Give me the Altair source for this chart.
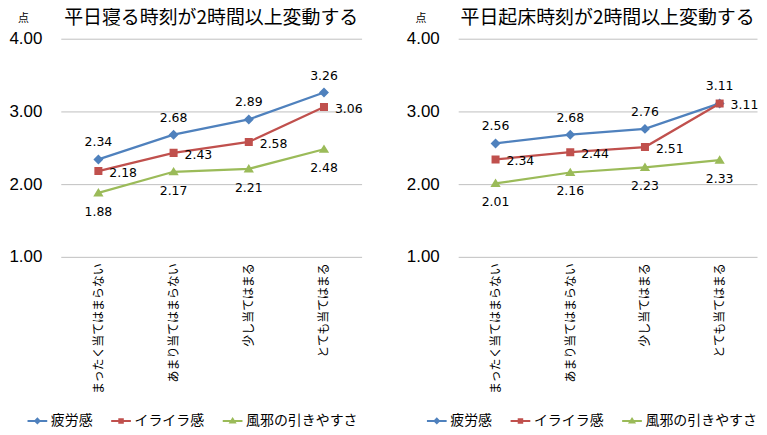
import altair as alt
import pandas as pd

categories = ["まったく当てはまらない", "あまり当てはまらない", "少し当てはまる", "とても当てはまる"]
series_names = ["疲労感", "イライラ感", "風邪の引きやすさ"]

left_title = "平日寝る時刻が2時間以上変動する"
left_fatigue = [2.34, 2.68, 2.89, 3.26]
left_irritation = [2.18, 2.43, 2.58, 3.06]
left_cold = [1.88, 2.17, 2.21, 2.48]

right_title = "平日起床時刻が2時間以上変動する"
right_fatigue = [2.56, 2.68, 2.76, 3.11]
right_irritation = [2.34, 2.44, 2.51, 3.11]
right_cold = [2.01, 2.16, 2.23, 2.33]

y_ticks = [1, 2, 3, 4]

colors = ["#4F81BD", "#C0504D", "#9BBB59"]
# marker paths: open horizontal stub (visible only when stroked, i.e. in the legend) + filled marker
marker_paths = [
    "M-1.4,0L1.4,0M0,-0.31L0.31,0L0,0.31L-0.31,0Z",
    "M-1.4,0L1.4,0M-0.25,-0.25L0.25,-0.25L0.25,0.25L-0.25,0.25Z",
    "M-1.4,0L1.4,0M0,-0.3L0.32,0.22L-0.32,0.22Z",
]
# label offsets per series: (align, dx, dy)
label_style = [("center", 0, -17), ("left", 11, 2), ("center", 0, 19)]

JP = "Noto Sans CJK JP"


def make_df(vals_list):
    rows = []
    for s, vals in zip(series_names, vals_list):
        for i, (c, v) in enumerate(zip(categories, vals)):
            rows.append({"cat": c, "idx": i, "series": s, "value": v})
    return pd.DataFrame(rows)


def make_panel(title, vals_list, width, legend_x):
    df = make_df(vals_list)
    x = alt.X(
        "cat:N",
        sort=categories,
        scale=alt.Scale(domain=categories),
        axis=alt.Axis(
            labelAngle=-90, labelFont=JP, labelFontSize=12, labelColor="#000000",
            labelPadding=6, labelLimit=300, ticks=False, domain=False, grid=False, title=None,
        ),
    )
    y = alt.Y(
        "value:Q",
        scale=alt.Scale(domain=[1, 4], nice=False, zero=False),
        axis=alt.Axis(
            values=y_ticks, format=".2f", labelFont="Liberation Sans", labelFontSize=17,
            labelColor="#000000", labelPadding=19, ticks=False, domain=False, grid=True,
            gridColor="#BFBFBF", gridWidth=1, minExtent=52, maxExtent=52,
            title="点", titleAngle=0, titleFont=JP, titleFontSize=11, titleFontWeight="normal",
            titleColor="#000000", titleX=-38, titleY=-20, titleAlign="center", titleBaseline="middle",
        ),
    )
    base = alt.Chart(df).encode(x=x, y=y)

    leg = alt.Legend(
        orient="none",
        legendX=legend_x,
        legendY=375,
        direction="horizontal",
        title=None,
        labelFont=JP,
        labelFontSize=14,
        labelColor="#000000",
        labelOffset=5,
        columnPadding=14,
        symbolSize=200,
        symbolStrokeWidth=2,
        padding=0,
    )

    lines = base.mark_line(strokeWidth=2.25).encode(
        stroke=alt.Stroke("series:N", scale=alt.Scale(domain=series_names, range=colors), legend=leg),
        order=alt.Order("idx:Q"),
    )

    points = base.mark_point(filled=True, size=1040, opacity=1).encode(
        fill=alt.Fill("series:N", scale=alt.Scale(domain=series_names, range=colors), legend=leg),
        stroke=alt.Stroke("series:N", scale=alt.Scale(domain=series_names, range=colors), legend=leg),
        shape=alt.Shape("series:N", scale=alt.Scale(domain=series_names, range=marker_paths), legend=leg),
        strokeWidth=alt.value(0),
    )

    layers = [lines, points]
    for s, (al, dx, dy) in zip(series_names, label_style):
        txt = base.transform_filter(alt.datum.series == s).mark_text(
            align=al, dx=dx, dy=dy, baseline="middle",
            font="DejaVu Sans", fontSize=12.5, color="#000000"
        ).encode(text=alt.Text("value:Q", format=".2f"))
        layers.append(txt)

    return alt.layer(*layers).properties(
        width=width,
        height=219,
        title=alt.TitleParams(
            text=title, font=JP, fontSize=19, fontWeight="normal",
            color="#000000", anchor="middle", offset=-15,
        ),
    )


left = make_panel(left_title, [left_fatigue, left_irritation, left_cold], 302, -32)
right = make_panel(right_title, [right_fatigue, right_irritation, right_cold], 300, -30)

chart = (
    alt.hconcat(left, right, spacing=42)
    .resolve_scale(fill="independent", stroke="independent", shape="independent")
    .resolve_legend(fill="independent", stroke="independent", shape="independent")
    .properties(padding=0)
    .configure_view(strokeWidth=0)
)

chart.save("out.html", embed_options={"renderer": "svg", "actions": False})
